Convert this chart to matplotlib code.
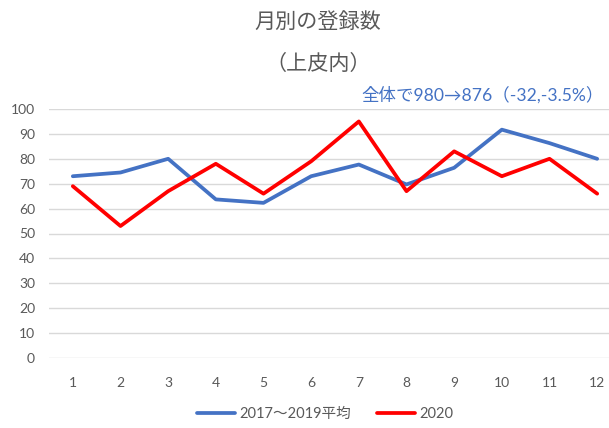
import matplotlib.pyplot as plt

plt.rcParams['font.family'] = ['Lato', 'Noto Sans CJK JP', 'DejaVu Sans']

months = list(range(1, 13))
avg_2017_2019 = [73, 74.5, 80, 63.7, 62.3, 73, 77.7, 69.7, 76.4, 91.7, 86.3, 80]
y2020 = [69, 53, 67, 78, 66, 79, 95, 67, 83, 73, 80, 66]
labels = ["2017～2019平均", "2020"]

grey = "#595959"

fig = plt.figure(figsize=(6.09, 4.28), dpi=100)
ax = fig.add_axes([49 / 609, 70 / 428, 572 / 609, 249 / 428])

ax.plot(months, avg_2017_2019, color="#4472C4", lw=2.7, label=labels[0],
        solid_capstyle="round", solid_joinstyle="round")
ax.plot(months, y2020, color="#FF0000", lw=2.7, label=labels[1],
        solid_capstyle="round", solid_joinstyle="round")

ax.set_xlim(0.5, 12.5)
ax.set_ylim(0, 100)
ax.set_xticks(months)
ax.set_yticks(range(0, 101, 10))
ax.grid(axis="y", color="#D9D9D9", lw=1)
ax.set_axisbelow(True)
for s in ax.spines.values():
    s.set_visible(False)
ax.tick_params(length=0, colors=grey, labelsize=10)
ax.tick_params(axis="x", pad=14)
ax.tick_params(axis="y", pad=10)

fig.text(318 / 609, 1 - 22 / 428, "月別の登録数", ha="center", va="center",
         fontsize=15.2, color=grey)
fig.text(318 / 609, 1 - 64 / 428, "（上皮内）", ha="center", va="center",
         fontsize=15.2, color=grey)
fig.text(604 / 609, 1 - 95 / 428, "全体で980→876（-32,-3.5%）", ha="right",
         va="center", fontsize=12.6, color="#4472C4")

fig.legend(loc="center", bbox_to_anchor=(325 / 609, 1 - 414 / 428), ncol=2,
           frameon=False, fontsize=10.5, labelcolor=grey, handlelength=2.6,
           columnspacing=1.8, handletextpad=0.3)

fig.savefig("out.png", dpi=100)
